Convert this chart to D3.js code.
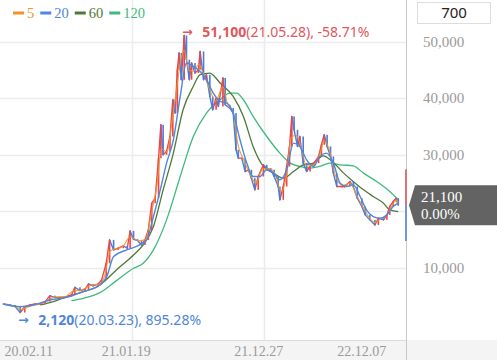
<!DOCTYPE html>
<html><head><meta charset="utf-8">
<script src="https://cdn.jsdelivr.net/npm/d3@7"></script>
<style>html,body{margin:0;padding:0;background:#fff;overflow:hidden}</style>
</head><body><svg id="c" width="497" height="360"></svg>
<script>
// ---- data (day index 0..699, price in KRW) ----
const candleCount = 700;
const closeDays = [2,14,23,32,40,49,58,67,76,84,93,102,114,122,128,137,146,152,160,169,175,183,189,196,204,213,220,225,231,238,245,251,257,263,269,275,279,283,289,295,300,304,308,311,315,320,324,329,333,339,345,348,354,359,365,370,376,380,388,392,400,406,411,415,421,427,433,438,444,450,459,465,472,478,485,488,494,500,505,509,513,519,523,529,535,541,548,556,561,566,571,577,582,588,597,602,611,617,624,632,638,646,655,661,670,676,681,687,692,696];
const closeVals = [3630,3450,3160,2120,3160,3450,3630,3630,4040,5100,4750,4800,4930,5220,6580,6000,6230,7170,6820,7170,7880,10830,14960,13190,13480,13900,13480,16550,15075,14840,14070,14960,16730,21450,22330,29410,35310,30000,30600,33240,39740,37380,45060,48000,43280,51100,46820,43280,46230,44460,45060,48290,43280,44160,40330,37970,40030,38560,43580,38850,38260,37380,30890,29410,29410,27050,27350,25870,23810,26170,28230,27640,27350,26170,24400,22040,24400,27940,31480,36790,34420,31480,33240,28530,27050,27940,28530,29710,31770,33540,31480,29710,26760,24400,24400,24400,25280,24400,22330,20860,19380,18500,17610,18790,18500,19380,20860,21740,22330,21100];

const ma5Days = [2,20,35,50,65,80,95,110,125,140,155,170,180,190,200,212,225,240,252,262,272,280,290,298,306,312,320,328,336,346,355,365,375,388,396,406,414,425,436,446,458,470,480,490,500,508,516,525,535,548,558,566,575,585,598,612,622,634,645,655,665,675,685,692,696];
const ma5Vals = [3600,3300,2700,3300,3600,4300,4900,4900,5900,6100,6900,7100,8500,13000,13400,13800,15500,14800,15000,19500,24500,31000,30500,35500,41000,45500,48500,45000,44800,46000,44000,41500,39500,42000,39000,37600,32000,29000,26500,25000,27500,27500,26500,23500,26500,33000,33500,31500,28000,28300,30000,32500,30800,26500,24600,25000,23000,20800,18900,18000,18700,19200,21000,22000,21300];

const ma20Days = [2,32,55,84,114,143,172,184,196,219,242,254,266,278,289,301,313,324,336,348,359,371,383,395,406,418,430,441,453,465,477,488,500,512,523,535,547,558,570,582,594,605,617,629,640,652,664,676,687,696];
const ma20Vals = [3630,3160,3450,4340,4810,5810,6990,8470,12010,13190,14070,14960,19090,23810,28530,32660,40330,46230,45640,44750,43280,40920,39440,39150,37380,32660,28530,26170,26170,27350,26760,25580,27350,32070,31480,29120,27940,29710,30300,28530,24990,24400,24690,22630,20270,19090,18790,19380,20860,21450];

const ma60Days = [67,90,114,143,172,201,231,248,266,283,301,318,336,348,365,383,406,424,441,459,477,494,512,529,547,564,582,600,617,635,652,670,681,696];
const ma60Vals = [3450,4040,4930,5810,6990,9650,12300,14070,17320,23810,30300,37970,42110,44160,44460,42700,40330,36790,31480,27940,26760,25870,27050,28230,28530,29830,28650,26760,25280,23810,22630,21450,20270,19970];

const ma120Days = [122,143,172,201,231,248,266,289,313,336,359,383,400,412,424,441,465,488,506,523,541,558,576,594,617,635,658,681,696];
const ma120Vals = [4230,4640,5630,7760,9940,10830,13190,18500,26170,33240,37380,39740,40920,40920,39740,36790,33240,30300,28530,27940,27640,27940,28530,28230,28060,26760,25280,23520,22040];

const yTicks = [10000,20000,30000,40000,50000];
const gridDays = [228,460];
const xTickDays = [47,218,451,632];
const xTickLabels = ["20.02.11","21.01.19","21.12.27","22.12.07"];

const legendNames = ["5","20","60","120"];
const legendColors = ["#f39325","#4f86e0","#4d7a36","#3dba7e"];

const lastPrice = 21100, lastChange = "0.00%";
const upperLimit = 27430, lowerLimit = 14770;
const peak = {day:320, value:51100, date:"21.05.28", pct:"-58.71%"};
const trough = {day:32, value:2120, date:"20.03.23", pct:"895.28%"};

// ---- drawing ----
const svg = d3.select("#c");
const W = 497, H = 360, plotRight = 406, axisY = 340;
const x = d3.scaleLinear().domain([0, candleCount-1]).range([2, 400]);
const y = d3.scaleLinear().domain([0, 50000]).range([324.5, 41.7]);
const tagHalf = 20;

// bottom band
svg.append("rect").attr("x",0).attr("y",axisY).attr("width",W).attr("height",H-axisY).attr("fill","#f4f4f4");
svg.append("line").attr("x1",0).attr("x2",plotRight).attr("y1",axisY+0.5).attr("y2",axisY+0.5).attr("stroke","#dcdcdc");

// gridlines
svg.append("g").selectAll("line").data(yTicks).join("line")
  .attr("x1",0).attr("x2",plotRight).attr("y1",d=>Math.round(y(d))+0.5).attr("y2",d=>Math.round(y(d))+0.5)
  .attr("stroke","#ececec").attr("stroke-width",1.5);
svg.append("g").selectAll("line").data(gridDays).join("line")
  .attr("x1",d=>Math.round(x(d))+0.5).attr("x2",d=>Math.round(x(d))+0.5).attr("y1",0).attr("y2",axisY)
  .attr("stroke","#ececec").attr("stroke-width",1.5);

// x labels
svg.append("g").selectAll("text").data(xTickDays).join("text")
  .attr("x",d=>x(d)).attr("y",356).attr("text-anchor","middle")
  .attr("font-family","'Liberation Serif','DejaVu Serif',serif").attr("font-size",14).attr("fill","#9a9a9a")
  .text((d,i)=>xTickLabels[i]);

// series helpers
const pts = (days, vals) => days.map((d,i)=>[d, vals[i]]);
const lineGen = d3.line().x(d=>x(d[0])).y(d=>y(d[1])).curve(d3.curveMonotoneX);

// MA120, MA60
svg.append("path").datum(pts(ma120Days, ma120Vals)).attr("d",lineGen).attr("fill","none").attr("stroke",legendColors[3]).attr("stroke-width",1.3);
svg.append("path").datum(pts(ma60Days, ma60Vals)).attr("d",lineGen).attr("fill","none").attr("stroke",legendColors[2]).attr("stroke-width",1.3);

// price: segments coloured by direction + narrow candle bodies
const closes = pts(closeDays, closeVals);
const segs = closes.slice(1).map((c,i)=>({d0:closes[i][0], v0:closes[i][1], d1:c[0], v1:c[1]}));
const up = "#e8474c", dn = "#4a7ddb";
svg.append("g").selectAll("line").data(segs).join("line")
  .attr("x1",d=>x(d.d0)).attr("y1",d=>y(d.v0)).attr("x2",d=>x(d.d1)).attr("y2",d=>y(d.v1))
  .attr("stroke",d=>d.v1>=d.v0?up:dn).attr("stroke-width",1.4).attr("stroke-linecap","round");
svg.append("g").selectAll("rect").data(segs).join("rect")
  .attr("x",d=>x(d.d1)-0.8).attr("width",1.6)
  .attr("y",d=>y(Math.max(d.v0,d.v1))).attr("height",d=>Math.max(1,Math.abs(y(d.v0)-y(d.v1))))
  .attr("fill",d=>d.v1>=d.v0?up:dn);

// MA5, MA20
svg.append("path").datum(pts(ma5Days, ma5Vals)).attr("d",lineGen).attr("fill","none").attr("stroke",legendColors[0]).attr("stroke-width",1.2).attr("opacity",0.85);
svg.append("path").datum(pts(ma20Days, ma20Vals)).attr("d",lineGen).attr("fill","none").attr("stroke",legendColors[1]).attr("stroke-width",1.4);

// separator and limit bars
svg.append("line").attr("x1",plotRight+0.5).attr("x2",plotRight+0.5).attr("y1",0).attr("y2",H).attr("stroke","#c8c8c8");
svg.append("rect").attr("x",plotRight-1).attr("width",2).attr("y",y(upperLimit)).attr("height",y(lastPrice)-y(upperLimit)).attr("fill","#e07074");
svg.append("rect").attr("x",plotRight-1).attr("width",2).attr("y",y(lastPrice)).attr("height",y(lowerLimit)-y(lastPrice)).attr("fill","#6d95e0");

// y labels (those hidden behind the price tag are not drawn)
const ty = y(lastPrice);
svg.append("g").selectAll("text").data(yTicks.filter(d=>Math.abs(y(d)-ty)>tagHalf+4)).join("text")
  .attr("x",423).attr("y",d=>y(d)+5)
  .attr("font-family","'Liberation Serif','DejaVu Serif',serif").attr("font-size",15).attr("fill","#9a9a9a")
  .text(d=>d3.format(",")(d));

// price tag
svg.append("path").attr("d",`M${plotRight+3},${ty} L${plotRight+9},${ty-tagHalf} L${W},${ty-tagHalf} L${W},${ty+tagHalf} L${plotRight+9},${ty+tagHalf} Z`).attr("fill","#636363");
svg.append("text").attr("x",421).attr("y",ty-3).attr("font-family","'Liberation Serif',serif").attr("font-size",15).attr("fill","#fff").text(d3.format(",")(lastPrice));
svg.append("text").attr("x",421).attr("y",ty+14).attr("font-family","'Liberation Serif',serif").attr("font-size",15).attr("fill","#fff").text(lastChange);

// count box
svg.append("rect").attr("x",417.5).attr("y",2.5).attr("width",73).attr("height",21).attr("fill","#fff").attr("stroke","#dddddd");
svg.append("text").attr("x",454).attr("y",18).attr("text-anchor","middle").attr("font-family","'Noto Sans',sans-serif").attr("font-size",15).attr("fill","#222").text(candleCount);

// legend
const lg = svg.append("g");
let lx = 13;
legendNames.forEach((n,i)=>{
  lg.append("rect").attr("x",lx).attr("y",11.5).attr("width",11).attr("height",3).attr("fill",legendColors[i]);
  const t = lg.append("text").attr("x",lx+14).attr("y",18).attr("font-family","'Liberation Serif',serif").attr("font-size",14.5).attr("fill",legendColors[i]).text(n);
  lx += 14 + t.node().getComputedTextLength() + 6;
});

// annotations
function annot(p, color, dy){
  const ax = x(p.day) - 2, ay = y(p.value) + dy;
  const g = svg.append("g").attr("font-family","'Noto Sans','Open Sans',sans-serif").attr("font-size",14).attr("fill",color);
  g.append("text").attr("x",ax).attr("y",ay-1).attr("font-weight","bold").attr("font-family","'DejaVu Sans',sans-serif").attr("font-size",12.5).text("→");
  const t = g.append("text").attr("x",ax+20).attr("y",ay);
  t.append("tspan").attr("font-weight","bold").text(d3.format(",")(p.value));
  t.append("tspan").text(`(${p.date}), ${p.pct}`);
}
annot(peak, "#e0575c", 1.5);
annot(trough, "#4f86dc", 12);
</script></body></html>
